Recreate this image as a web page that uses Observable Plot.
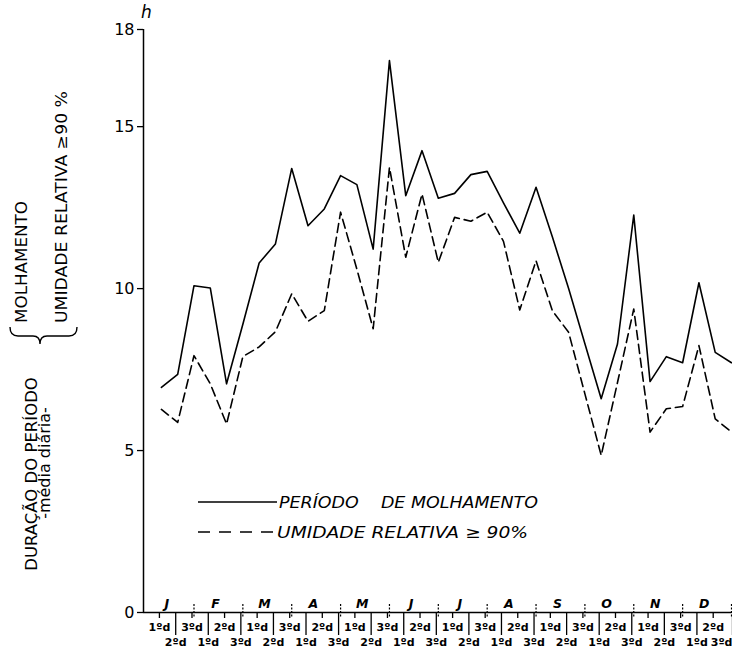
<!DOCTYPE html>
<html>
<head>
<meta charset="utf-8">
<script src="https://cdn.jsdelivr.net/npm/d3@7"></script>
<script src="https://cdn.jsdelivr.net/npm/@observablehq/plot@0.6"></script>
<style>
  html, body { margin: 0; padding: 0; background: #fff; }
  #chart svg { display: block; }
</style>
</head>
<body>
<div id="chart"></div>
<script>
// Decendios (10-day periods), 3 per month, January to December
const decendios = d3.range(1, 37);

// Período de molhamento (h, média diária)
const molhamento = [6.95, 7.35, 10.09, 10.02, 7.06, 8.9, 10.79, 11.38, 13.71, 11.94, 12.46, 13.49,
                    13.21, 11.22, 17.04, 12.87, 14.26, 12.79, 12.94, 13.52, 13.62, 12.65, 11.71, 13.13,
                    11.6, 10.0, 8.3, 6.6, 8.29, 12.27, 7.13, 7.9, 7.71, 10.18, 8.03, 7.71];

// Umidade relativa >= 90% (h, média diária)
const umidade = [6.27, 5.87, 7.93, 7.06, 5.82, 7.9, 8.2, 8.67, 9.84, 8.99, 9.32, 12.36,
                 10.6, 8.76, 13.74, 10.97, 12.92, 10.81, 12.2, 12.08, 12.36, 11.46, 9.34, 10.86,
                 9.32, 8.65, 6.75, 4.85, 7.1, 9.37, 5.57, 6.29, 6.36, 8.24, 5.98, 5.57];

const meses = ["J", "F", "M", "A", "M", "J", "J", "A", "S", "O", "N", "D"];
const ordinais = ["1ºd", "2ºd", "3ºd"];
const yTicks = [0, 5, 10, 15, 18];

const xDomain = [-0.1, 36];
const rows = decendios.map((d, i) => ({d, mol: molhamento[i], umi: umidade[i]}));
const mesData = meses.map((m, k) => ({m, centro: 3 * k + 2}));
const impares = decendios.filter(d => d % 2 === 1);
const pares = decendios.filter(d => d % 2 === 0);
const ultimo = decendios[decendios.length - 1];
const limites = decendios.filter(d => d % 3 === 0);
const fmt = d => ordinais[(d - 1) % 3];

const font = "DejaVu Sans, Liberation Sans, sans-serif";
const lblStyle = {fontSize: 11, fontWeight: "bold", strokeWidth: 1.3, tickFormat: fmt};

const chart = Plot.plot({
  width: 732,
  height: 654,
  marginLeft: 143,
  marginRight: 1,
  marginTop: 29,
  marginBottom: 42,
  x: {domain: xDomain, axis: null},
  y: {domain: [0, 18], axis: null},
  style: {fontFamily: font, background: "white", color: "black", overflow: "visible"},
  marks: [
    // axes lines
    Plot.ruleX([xDomain[0]], {y1: 0, y2: 18, stroke: "black", strokeWidth: 1.5}),
    Plot.ruleY([0], {stroke: "black", strokeWidth: 1.5}),
    Plot.axisY({ticks: yTicks, tickSize: 6, tickPadding: 3, fontSize: 16, strokeWidth: 1.3}),
    // decendio labels: odd on upper row, even on lower row
    Plot.axisX({ticks: impares, tickSize: 6, tickPadding: 5, dx: -2, ...lblStyle}),
    Plot.axisX({ticks: pares.filter(d => d !== ultimo), tickSize: 23, tickPadding: 3, dx: -2, ...lblStyle}),
    Plot.axisX({ticks: [ultimo], tickSize: 23, tickPadding: 3, textAnchor: "end", dx: 1, ...lblStyle}),
    // month boundary marks crossing the axis
    Plot.ruleX(limites, {x: d => d, y1: 0, y2: 0, insetTop: -8, insetBottom: -6, stroke: "black", strokeWidth: 1.2, strokeDasharray: "2,1.5"}),
    // month labels
    Plot.text(mesData, {x: "centro", y: 0, text: "m", dx: -11, dy: -9, fontSize: 12.5, fontWeight: "bold", fontStyle: "italic"}),
    // series
    Plot.line(rows, {x: "d", y: "mol", stroke: "black", strokeWidth: 1.6}),
    Plot.line(rows, {x: "d", y: "umi", stroke: "black", strokeWidth: 1.6, strokeDasharray: "9,5"})
  ]
});

const svg = d3.select(chart);
const g = svg.append("g").attr("font-family", font).attr("fill", "black").attr("text-anchor", "start");

// unit label
g.append("text").attr("x", 141).attr("y", 18).attr("font-size", 17).attr("font-style", "italic")
  .attr("text-anchor", "start").text("h");

// left rotated titles
g.append("text").attr("transform", "translate(37,474) rotate(-90)").attr("text-anchor", "middle")
  .attr("font-size", 16.5).text("DURAÇÃO DO PERÍODO");
g.append("text").attr("transform", "translate(50,463) rotate(-90)").attr("text-anchor", "middle")
  .attr("font-size", 16).text("-média diária-");
g.append("text").attr("transform", "translate(27,323) rotate(-90)").attr("text-anchor", "start")
  .attr("font-size", 15.5).attr("textLength", 122).attr("lengthAdjust", "spacingAndGlyphs").text("MOLHAMENTO");
g.append("text").attr("transform", "translate(67,323) rotate(-90)").attr("text-anchor", "start")
  .attr("font-size", 15.5).attr("textLength", 232).attr("lengthAdjust", "spacingAndGlyphs").text("UMIDADE RELATIVA ≥90 %");
g.append("path")
  .attr("d", "M10,327 Q10,336 18,336 L33,336 Q40,336 40,344 Q40,336 47,336 L69,336 Q77,336 77,327")
  .attr("fill", "none").attr("stroke", "black").attr("stroke-width", 1.4);

// legend
const leg = svg.append("g").attr("font-family", font).attr("fill", "black").attr("text-anchor", "start");
leg.append("line").attr("x1", 198).attr("x2", 277).attr("y1", 502).attr("y2", 502)
  .attr("stroke", "black").attr("stroke-width", 1.6);
leg.append("text").attr("x", 279).attr("y", 508).attr("font-size", 16).attr("font-style", "italic")
  .attr("text-anchor", "start").attr("textLength", 259).attr("lengthAdjust", "spacingAndGlyphs")
  .style("white-space", "pre").text("PERÍODO    DE MOLHAMENTO");
leg.append("line").attr("x1", 198).attr("x2", 276).attr("y1", 532).attr("y2", 532)
  .attr("stroke", "black").attr("stroke-width", 1.6).attr("stroke-dasharray", "12,9");
leg.append("text").attr("x", 277).attr("y", 538).attr("font-size", 16).attr("font-style", "italic")
  .attr("text-anchor", "start").attr("textLength", 251).attr("lengthAdjust", "spacingAndGlyphs")
  .text("UMIDADE RELATIVA ≥ 90%");

document.getElementById("chart").appendChild(chart);
</script>
</body>
</html>
